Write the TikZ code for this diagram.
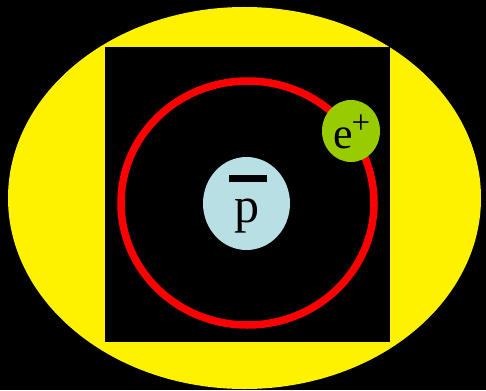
\documentclass[tikz,border=0pt]{standalone}
\usepackage{fontspec}
\setmainfont{Liberation Serif}
\usetikzlibrary{shapes.geometric}
\definecolor{pblue}{RGB}{184,224,228}
\definecolor{egreen}{RGB}{153,204,0}
\tikzset{
  blob/.style={ellipse, inner sep=0pt, draw=none},
  lbl/.style={inner sep=0pt},
}
\begin{document}
\begin{tikzpicture}[x=1pt,y=-1pt]
\fill[black] (0,0) rectangle (486,390);
\useasboundingbox (0,0) rectangle (486,390);
\fill[yellow] (244.5,198) ellipse [x radius=236.5, y radius=191];
\fill[black] (105,47) rectangle (390,342);
\draw[red, line width=7.5pt] (247.5,203) ellipse [x radius=126.5, y radius=122];
\node[blob, fill=pblue, minimum width=87pt, minimum height=93pt] (pbar) at (246.5,203.5) {};
\fill[black] (229,174.5) rectangle (267,182);
\node[lbl, anchor=base, font=\fontsize{50}{50}\selectfont] (ptext) at (247,222) {p};
\node[blob, fill=egreen, minimum width=58pt, minimum height=62pt] (epos) at (351,131) {};
\node[lbl, anchor=base west, font=\fontsize{44}{44}\selectfont] (etext) at (333,148) {e\kern-1pt\raisebox{14pt}{\fontsize{33}{33}\selectfont +}};
\end{tikzpicture}
\end{document}
